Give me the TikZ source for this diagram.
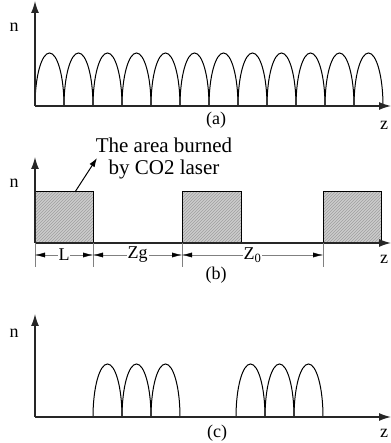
\documentclass[tikz,border=0pt]{standalone}
\usepackage{fontspec}
\setmainfont{Liberation Serif}
\usetikzlibrary{arrows.meta,patterns}
\tikzset{
  axis/.style={line width=1.3pt,black!85,-{Latex[length=12pt,width=8pt]}},
  arch/.style={line width=1pt},
  burnt/.style={line width=1pt,preaction={fill=gray!40},pattern=north east lines,pattern color=gray!75},
  dimline/.style={line width=0.4pt,gray,{Latex[length=10pt,width=5pt,black]}-{Latex[length=10pt,width=5pt,black]}},
  extline/.style={line width=0.4pt,gray},
  lbl/.style={font=\fontsize{18}{20}\selectfont,inner sep=1pt}
}
\begin{document}
\begin{tikzpicture}[x=1pt,y=1pt]
\useasboundingbox (0,0) rectangle (390,443);
% (a)
\coordinate (Oa) at (35,337);
\coordinate (Ya) at (35,442);
\coordinate (Za) at (391,337);
\foreach \x in {35,64,...,354}
  \draw[arch] (\x,337) arc[start angle=180,end angle=0,x radius=14.5,y radius=53];
\draw[axis] (Oa)--(Ya);
\draw[axis] (Oa)--(Za);
\node[lbl] (na) at (14,416) {n};
\node[lbl] (za) at (384,318) {z};
\node[lbl] (capa) at (216,323) {(a)};
% (b)
\coordinate (Ob) at (35,200);
\coordinate (Yb) at (35,286);
\coordinate (Zb) at (391,200);
\draw[burnt] (35,200) rectangle (93,251);
\draw[burnt] (182,200) rectangle (241,251);
\draw[burnt] (323,200) rectangle (381,251);
\draw[axis] (Ob)--(Yb);
\draw[axis] (Ob)--(Zb);
\node[lbl] (nb) at (14,260) {n};
\node[lbl] (zb) at (384,184) {z};
\node[lbl] (capb) at (216,168) {(b)};
\node[lbl,font=\fontsize{21}{22}\selectfont,align=center] (burn) at (164,285) {The area burned\\by CO2 laser};
\coordinate (B1) at (75,251);
\coordinate (B2) at (97,285);
\draw[line width=1pt,-{Latex[length=9pt,width=6pt]}] (B1)--(B2);
\foreach \x in {35,93,182,323}
  \draw[extline] (\x,200)--(\x,176);
\coordinate (d1) at (35,188);
\coordinate (d2) at (93,188);
\coordinate (d3) at (182,188);
\coordinate (d4) at (323,188);
\draw[dimline] (d1)--node[lbl,fill=white,text=black] {L} (d2);
\draw[dimline] (d2)--node[lbl,fill=white,text=black] {Zg} (d3);
\draw[dimline] (d3)--node[lbl,fill=white,text=black] {Z\textsubscript{0}} (d4);
% (c)
\coordinate (Oc) at (35,26);
\coordinate (Yc) at (35,129);
\coordinate (Zc) at (391,26);
\foreach \x in {93,122,151,236,265,294}
  \draw[arch] (\x,26) arc[start angle=180,end angle=0,x radius=14.5,y radius=53];
\draw[axis] (Oc)--(Yc);
\draw[axis] (Oc)--(Zc);
\node[lbl] (nc) at (14,110) {n};
\node[lbl] (zc) at (384,10) {z};
\node[lbl] (capc) at (217,10) {(c)};
\end{tikzpicture}
\end{document}
